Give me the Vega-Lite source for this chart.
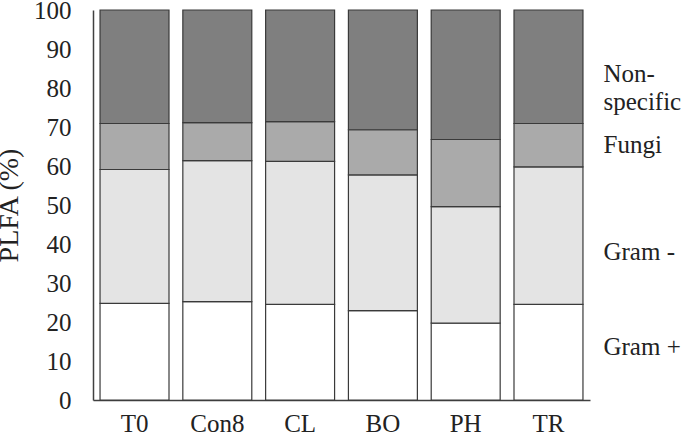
{
  "$schema": "https://vega.github.io/schema/vega-lite/v6.json",
  "autosize": "none",
  "padding": {"left": 93, "top": 10, "right": 95, "bottom": 36},
  "width": 497,
  "height": 390,
  "background": "white",
  "config": {
    "view": {"stroke": null},
    "font": "Times New Roman",
    "axis": {"labelFont": "Times New Roman", "titleFont": "Times New Roman"},
    "text": {"font": "Times New Roman"}
  },
  "datasets": {
    "bars": [
      {"site": "T0", "group": "Gram +", "ord": 1, "value": 24.8},
      {"site": "T0", "group": "Gram -", "ord": 2, "value": 34.3},
      {"site": "T0", "group": "Fungi", "ord": 3, "value": 11.8},
      {"site": "T0", "group": "Non-specific", "ord": 4, "value": 29.1},
      {"site": "Con8", "group": "Gram +", "ord": 1, "value": 25.2},
      {"site": "Con8", "group": "Gram -", "ord": 2, "value": 36.2},
      {"site": "Con8", "group": "Fungi", "ord": 3, "value": 9.7},
      {"site": "Con8", "group": "Non-specific", "ord": 4, "value": 28.9},
      {"site": "CL", "group": "Gram +", "ord": 1, "value": 24.5},
      {"site": "CL", "group": "Gram -", "ord": 2, "value": 36.7},
      {"site": "CL", "group": "Fungi", "ord": 3, "value": 10.2},
      {"site": "CL", "group": "Non-specific", "ord": 4, "value": 28.6},
      {"site": "BO", "group": "Gram +", "ord": 1, "value": 22.9},
      {"site": "BO", "group": "Gram -", "ord": 2, "value": 34.8},
      {"site": "BO", "group": "Fungi", "ord": 3, "value": 11.6},
      {"site": "BO", "group": "Non-specific", "ord": 4, "value": 30.7},
      {"site": "PH", "group": "Gram +", "ord": 1, "value": 19.7},
      {"site": "PH", "group": "Gram -", "ord": 2, "value": 29.9},
      {"site": "PH", "group": "Fungi", "ord": 3, "value": 17.2},
      {"site": "PH", "group": "Non-specific", "ord": 4, "value": 33.2},
      {"site": "TR", "group": "Gram +", "ord": 1, "value": 24.5},
      {"site": "TR", "group": "Gram -", "ord": 2, "value": 35.3},
      {"site": "TR", "group": "Fungi", "ord": 3, "value": 11.1},
      {"site": "TR", "group": "Non-specific", "ord": 4, "value": 29.1}
    ],
    "labels": [
      {"site": "TR", "label": ["Non-", "specific"], "pos": 83.6},
      {"site": "TR", "label": ["Fungi"], "pos": 65.4},
      {"site": "TR", "label": ["Gram -"], "pos": 38},
      {"site": "TR", "label": ["Gram +"], "pos": 13.6}
    ]
  },
  "layer": [
    {
      "data": {"name": "bars"},
      "mark": {"type": "bar", "stroke": "#3a3a3a", "strokeWidth": 1.2},
      "encoding": {
        "x": {
          "field": "site", "type": "nominal", "sort": ["T0", "Con8", "CL", "BO", "PH", "TR"],
          "scale": {"paddingInner": 0.167, "paddingOuter": 0.085},
          "axis": {"title": null, "labelAngle": 0, "ticks": false, "labelFontSize": 25, "labelColor": "#222", "labelPadding": 11, "domainColor": "#404040", "domainWidth": 1.5}
        },
        "y": {
          "field": "value", "type": "quantitative", "stack": "zero",
          "scale": {"domain": [0, 100], "nice": false},
          "axis": {"title": "PLFA (%)", "titleFontSize": 28, "titleFontWeight": "normal", "titleColor": "#222", "titlePadding": 10, "values": [0,10,20,30,40,50,60,70,80,90,100], "labelOverlap": false, "labelBound": false, "ticks": false, "grid": false, "labelFontSize": 25, "labelColor": "#222", "labelPadding": 22, "domainColor": "#404040", "domainWidth": 1.5}
        },
        "color": {
          "field": "group", "type": "nominal", "legend": null,
          "scale": {"domain": ["Gram +", "Gram -", "Fungi", "Non-specific"], "range": ["#ffffff", "#e4e4e4", "#aaaaaa", "#7f7f7f"]}
        },
        "order": {"field": "ord", "type": "quantitative"}
      }
    },
    {
      "data": {"name": "labels"},
      "mark": {"type": "text", "align": "left", "baseline": "middle", "dx": 55, "fontSize": 25, "lineHeight": 28, "color": "#222"},
      "encoding": {
        "x": {"field": "site", "type": "nominal", "sort": ["T0", "Con8", "CL", "BO", "PH", "TR"],
          "axis": {"title": null, "labelAngle": 0, "ticks": false, "labelFontSize": 25, "labelColor": "#222", "labelPadding": 11, "domainColor": "#404040", "domainWidth": 1.5}},
        "y": {"field": "pos", "type": "quantitative",
          "axis": {"title": "PLFA (%)", "titleFontSize": 28, "titleFontWeight": "normal", "titleColor": "#222", "titlePadding": 10, "values": [0,10,20,30,40,50,60,70,80,90,100], "labelOverlap": false, "labelBound": false, "ticks": false, "grid": false, "labelFontSize": 25, "labelColor": "#222", "labelPadding": 22, "domainColor": "#404040", "domainWidth": 1.5}},
        "text": {"field": "label"}
      }
    }
  ]
}
